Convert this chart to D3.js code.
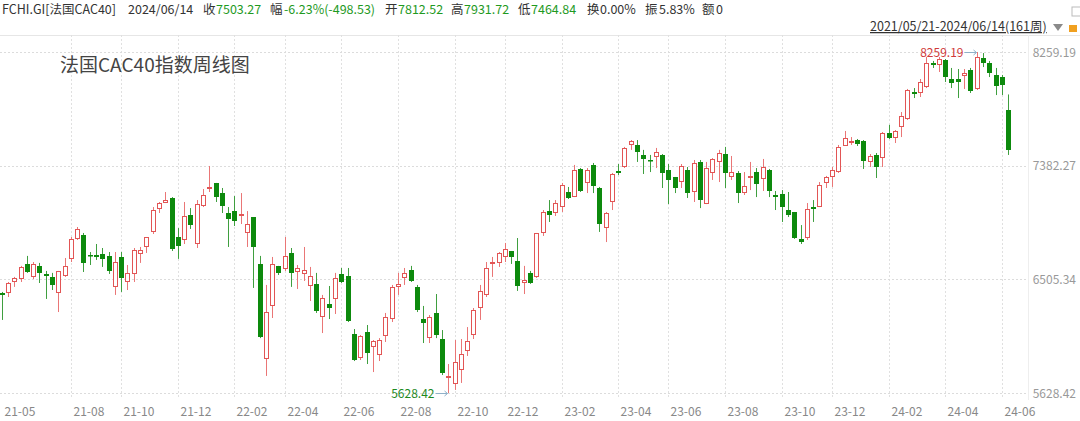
<!DOCTYPE html>
<html>
<meta charset="utf-8">
<script src="https://d3js.org/d3.v7.min.js"></script>
<style>
  body {margin: 0; background: #fff; }
  svg text {font-family: "Noto Sans CJK SC", "Noto Sans", sans-serif; }
</style>
<body>
<svg id="chart" width="1080" height="421"></svg>
<script>
// weekly candles, 2021/05/21 - 2024/06/14 (161 weeks)
const opens = [
  6400, 6400, 6485, 6508, 6624, 6524, 6609, 6547, 6524, 6400,
  6532, 6663, 6817, 6847, 6693, 6693, 6701, 6686, 6447, 6678,
  6485, 6547, 6701, 6755, 6871, 7048, 7094, 7133, 6832, 6809,
  7002, 6778, 7071, 7202, 7249, 7171, 7017, 7032, 6994, 6863,
  6986, 6624, 5891, 6300, 6609, 6586, 6709, 6562, 6547, 6454,
  6470, 6215, 6315, 6354, 6547, 6532, 6083, 5898, 6099, 5983,
  5922, 6068, 6199, 6447, 6516, 6578, 6447, 6199, 6052, 6246,
  6045, 5744, 5698, 5806, 5952, 6076, 6284, 6385, 6624, 6632,
  6678, 6724, 6647, 6477, 6555, 6524, 6863, 7032, 7017, 7063,
  7179, 7140, 7357, 7249, 7388, 7210, 6901, 7102, 7341, 7372,
  7542, 7542, 7465, 7426, 7449, 7465, 7349, 7295, 7256, 7349,
  7179, 7411, 7086, 7326, 7411, 7472, 7295, 7326, 7171, 7295,
  7333, 7279, 7349, 7156, 7164, 7040, 7025, 6817, 6824, 7063,
  7063, 7249, 7295, 7333, 7534, 7565, 7580, 7573, 7411, 7465,
  7441, 7634, 7596, 7681, 7742, 7951, 7943, 7989, 8174, 8159,
  8197, 8051, 8051, 8074, 8120, 7974, 8213, 8174, 8082, 8066,
  7812.52
];
const highs = [
  6408, 6485, 6524, 6609, 6686, 6639, 6632, 6570, 6555, 6570,
  6670, 6832, 6909, 6863, 6716, 6778, 6747, 6716, 6716, 6716,
  6616, 6747, 6755, 6832, 7063, 7102, 7179, 7140, 6901, 7102,
  7055, 7117, 7202, 7380, 7249, 7210, 7063, 7148, 7171, 7032,
  6986, 6686, 6462, 6678, 6609, 6832, 6747, 6616, 6755, 6601,
  6555, 6385, 6454, 6555, 6593, 6593, 6122, 6076, 6153, 6037,
  6052, 6246, 6462, 6555, 6593, 6609, 6462, 6300, 6230, 6392,
  6114, 5852, 6037, 6045, 6137, 6284, 6462, 6639, 6678, 6716,
  6786, 6724, 6824, 6609, 6570, 6863, 7040, 7117, 7117, 7249,
  7218, 7388, 7364, 7364, 7403, 7218, 7025, 7326, 7395, 7527,
  7580, 7580, 7504, 7465, 7519, 7472, 7395, 7295, 7395, 7372,
  7426, 7426, 7411, 7441, 7504, 7527, 7457, 7341, 7333, 7411,
  7364, 7434, 7357, 7187, 7194, 7179, 7025, 6924, 7094, 7117,
  7256, 7303, 7372, 7542, 7650, 7603, 7588, 7580, 7472, 7480,
  7642, 7697, 7657, 7796, 7974, 7981, 8051, 8221, 8190, 8221,
  8205, 8136, 8128, 8128, 8136, 8259.19, 8251, 8190, 8136, 8082,
  7931.72
];
const lows = [
  6192, 6369, 6447, 6485, 6555, 6508, 6477, 6354, 6423, 6253,
  6524, 6639, 6809, 6562, 6616, 6655, 6601, 6547, 6385, 6408,
  6423, 6485, 6632, 6709, 6855, 7017, 7094, 6724, 6663, 6778,
  6894, 6747, 7063, 7179, 7102, 7017, 6755, 6917, 6932, 6755,
  6439, 6052, 5760, 6207, 6539, 6570, 6447, 6431, 6493, 6338,
  6246, 6091, 6199, 6238, 6477, 6176, 5875, 5883, 5852, 5790,
  5875, 6022, 6176, 6385, 6462, 6485, 6253, 6014, 6014, 6052,
  5767, 5628.42, 5652, 5706, 5914, 6045, 6192, 6369, 6524, 6601,
  6639, 6624, 6416, 6392, 6470, 6516, 6840, 6948, 6994, 7025,
  7125, 7140, 7179, 7171, 7171, 6871, 6793, 7040, 7310, 7364,
  7504, 7411, 7318, 7333, 7364, 7210, 7086, 7171, 7210, 7133,
  7102, 7055, 7086, 7272, 7256, 7210, 7272, 7094, 7156, 7194,
  7140, 7187, 7140, 7040, 6948, 6986, 6817, 6778, 6809, 6948,
  7063, 7210, 7218, 7326, 7534, 7542, 7534, 7357, 7372, 7287,
  7372, 7588, 7557, 7603, 7735, 7904, 7912, 7981, 8136, 8105,
  8028, 7981, 7904, 7974, 7943, 7966, 8143, 8066, 7927, 7927,
  7464.84
];
const closes = [
  6385, 6477, 6516, 6601, 6562, 6624, 6555, 6532, 6462, 6570,
  6609, 6817, 6894, 6632, 6686, 6678, 6663, 6570, 6639, 6516,
  6555, 6732, 6732, 6832, 7040, 7094, 7117, 6740, 6763, 6994,
  6924, 7086, 7156, 7218, 7140, 7071, 6971, 6955, 7009, 6932,
  6755, 6060, 6253, 6624, 6555, 6686, 6555, 6593, 6578, 6532,
  6261, 6361, 6284, 6516, 6485, 6184, 5883, 6068, 5937, 6029,
  6037, 6215, 6447, 6470, 6555, 6493, 6269, 6168, 6215, 6076,
  5783, 5760, 5868, 5929, 6029, 6269, 6416, 6593, 6639, 6709,
  6740, 6678, 6454, 6501, 6477, 6863, 7025, 7002, 7094, 7233,
  7133, 7349, 7187, 7349, 7225, 6932, 7017, 7318, 7326, 7519,
  7573, 7488, 7434, 7418, 7488, 7326, 7272, 7210, 7380, 7171,
  7403, 7117, 7364, 7434, 7480, 7326, 7333, 7171, 7225, 7303,
  7241, 7372, 7187, 7140, 7063, 7002, 6824, 6793, 7048, 7048,
  7233, 7295, 7349, 7527, 7596, 7573, 7549, 7418, 7457, 7372,
  7634, 7596, 7650, 7765, 7966, 7935, 8028, 8174, 8159, 8205,
  8066, 8020, 8028, 8097, 7958, 8221, 8174, 8097, 7997, 8001.80,
  7503.27
];
const xTickLabels = ["21-05","21-08","21-10","21-12","22-02","22-04","22-06","22-08","22-10",
  "22-12","23-02","23-04","23-06","23-08","23-10","23-12","24-02","24-04","24-06"];
const yTickValues = [8259.19, 7382.27, 6505.34, 5628.42];

const header = [
  {t: "FCHI.GI[法国CAC40]", x: 2, c: "#333"},
  {t: "2024/06/14", x: 128, c: "#333"},
  {t: "收", x: 203, c: "#333"}, {t: "7503.27", x: 216, c: "#1f9a1f"},
  {t: "幅", x: 270, c: "#333"}, {t: "-6.23%(-498.53)", x: 284, c: "#1f9a1f"},
  {t: "开", x: 385, c: "#333"}, {t: "7812.52", x: 398, c: "#1f9a1f"},
  {t: "高", x: 451, c: "#333"}, {t: "7931.72", x: 464, c: "#1f9a1f"},
  {t: "低", x: 518, c: "#333"}, {t: "7464.84", x: 531, c: "#1f9a1f"},
  {t: "换", x: 587, c: "#333"}, {t: "0.00%", x: 600, c: "#333"},
  {t: "振", x: 645, c: "#333"}, {t: "5.83%", x: 659, c: "#333"},
  {t: "额", x: 702, c: "#333"}, {t: "0", x: 716, c: "#333"}
];

const dates = d3.timeFriday.range(new Date(2021, 4, 21), new Date(2024, 5, 15));
const fmt = d3.timeFormat("%y-%m");
const data = dates.map((d, i) => ({date: d, o: opens[i], h: highs[i], l: lows[i], c: closes[i], i}));

const svg = d3.select("#chart");
const plotTop = 35, plotBottom = 398, plotRight = 1028;

const x = d3.scaleBand()
  .domain(data.map(d => d.i))
  .range([-1.45, -1.45 + 6.29 * data.length]);
const cx = i => Math.round(x(i) + x.bandwidth() / 2) + 0.5;

const y = d3.scaleLinear()
  .domain([d3.min(lows), d3.max(highs)])
  .range([393, 52]);

// header
svg.append("g").selectAll("text")
  .data(header)
  .enter()
  .append("text")
  .attr("x", d => d.x)
  .attr("y", 14)
  .attr("font-size", "12.5px")
  .attr("fill", d => d.c)
  .text(d => d.t);

svg.append("text")
  .attr("x", 870).attr("y", 31)
  .attr("font-size", "12.5px").attr("fill", "#333")
  .attr("text-decoration", "underline")
  .text("2021/05/21-2024/06/14(161周)");
svg.append("path").attr("d", "M1053,24 L1063,24 L1058,31 Z").attr("fill", "#8a8a8a");
svg.append("rect").attr("x", 1069).attr("y", 25).attr("width", 8).attr("height", 7).attr("fill", "#f0a020");
svg.append("rect").attr("x", 1072).attr("y", 7).attr("width", 10).attr("height", 9)
  .attr("fill", "none").attr("stroke", "#bbb");

svg.append("line")
  .attr("x1", 0).attr("x2", 1080).attr("y1", plotTop + 0.5).attr("y2", plotTop + 0.5)
  .attr("stroke", "#e6e6e6");

// grid
const tickIdx = xTickLabels.map(t => data.find(d => fmt(d.date) === t).i);

svg.append("g").selectAll("line")
  .data(tickIdx.filter(i => i > 0))
  .enter()
  .append("line")
  .attr("x1", d => cx(d)).attr("x2", d => cx(d))
  .attr("y1", plotTop).attr("y2", plotBottom)
  .attr("stroke", "#e0e0e0").attr("stroke-dasharray", "2,2");

svg.append("g").selectAll("line")
  .data(yTickValues)
  .enter()
  .append("line")
  .attr("x1", 0).attr("x2", plotRight)
  .attr("y1", d => Math.round(y(d)) + 0.5).attr("y2", d => Math.round(y(d)) + 0.5)
  .attr("stroke", "#dcdcdc").attr("stroke-dasharray", "2,2");

svg.append("line")
  .attr("x1", plotRight + 0.5).attr("x2", plotRight + 0.5)
  .attr("y1", plotTop).attr("y2", 400)
  .attr("stroke", "#eeeeee");

svg.append("g").selectAll("text")
  .data(yTickValues)
  .enter()
  .append("text")
  .attr("x", 1076)
  .attr("y", d => y(d) + 4.5)
  .attr("text-anchor", "end")
  .attr("font-size", "12px")
  .attr("fill", "#999")
  .text(d => d.toFixed(2));

svg.append("g").selectAll("text")
  .data(xTickLabels)
  .enter()
  .append("text")
  .attr("x", (d, k) => cx(tickIdx[k]) + 2)
  .attr("y", 416)
  .attr("font-size", "12px")
  .attr("fill", "#888")
  .text(d => d);

// title
svg.append("text")
  .attr("x", 60).attr("y", 72)
  .attr("font-size", "19px").attr("fill", "#444")
  .text("法国CAC40指数周线图");

// candles
const up = "#e25555", upWick = "#ea7676", down = "#0d8a0d", downWick = "#3f9f3f";
const g = svg.append("g");

data.forEach(d => {
  const xc = cx(d.i);
  const isUp = d.c >= d.o;
  const yTop = Math.round(y(Math.max(d.o, d.c)));
  const yBot = Math.round(y(Math.min(d.o, d.c)));
  const yH = y(d.h), yL = y(d.l);
  if (isUp) {
    g.append("line").attr("x1", xc).attr("x2", xc).attr("y1", yH).attr("y2", yTop)
      .attr("stroke", upWick);
    g.append("line").attr("x1", xc).attr("x2", xc).attr("y1", yBot).attr("y2", yL)
      .attr("stroke", upWick);
    g.append("rect")
      .attr("x", xc - 2).attr("y", yTop + 0.5)
      .attr("width", 4).attr("height", Math.max(1, yBot - yTop - 1))
      .attr("fill", "#fff").attr("stroke", up);
  } else {
    g.append("line").attr("x1", xc).attr("x2", xc).attr("y1", yH).attr("y2", yL)
      .attr("stroke", downWick);
    g.append("rect")
      .attr("x", xc - 2.5).attr("y", yTop)
      .attr("width", 5).attr("height", Math.max(1.5, yBot - yTop))
      .attr("fill", down);
  }
});

// max / min markers
const maxD = data[d3.maxIndex(highs)], minD = data[d3.minIndex(lows)];
function marker(d, val, color) {
  const xc = cx(d.i), yy = Math.round(y(val)) + 0.5;
  svg.append("line").attr("x1", xc - 13).attr("x2", xc - 1).attr("y1", yy).attr("y2", yy)
    .attr("stroke", "#8fb0c8");
  svg.append("path").attr("d", `M${xc - 4},${yy - 2.5} L${xc - 1},${yy} L${xc - 4},${yy + 2.5}`)
    .attr("fill", "none").attr("stroke", "#8fb0c8");
  svg.append("text").attr("x", xc - 14).attr("y", yy + 4.5)
    .attr("text-anchor", "end").attr("font-size", "12px").attr("fill", color)
    .text(val.toFixed(2));
}
marker(maxD, maxD.h, "#d03a3a");
marker(minD, minD.l, "#1f8a1f");
</script>
</body>
</html>
